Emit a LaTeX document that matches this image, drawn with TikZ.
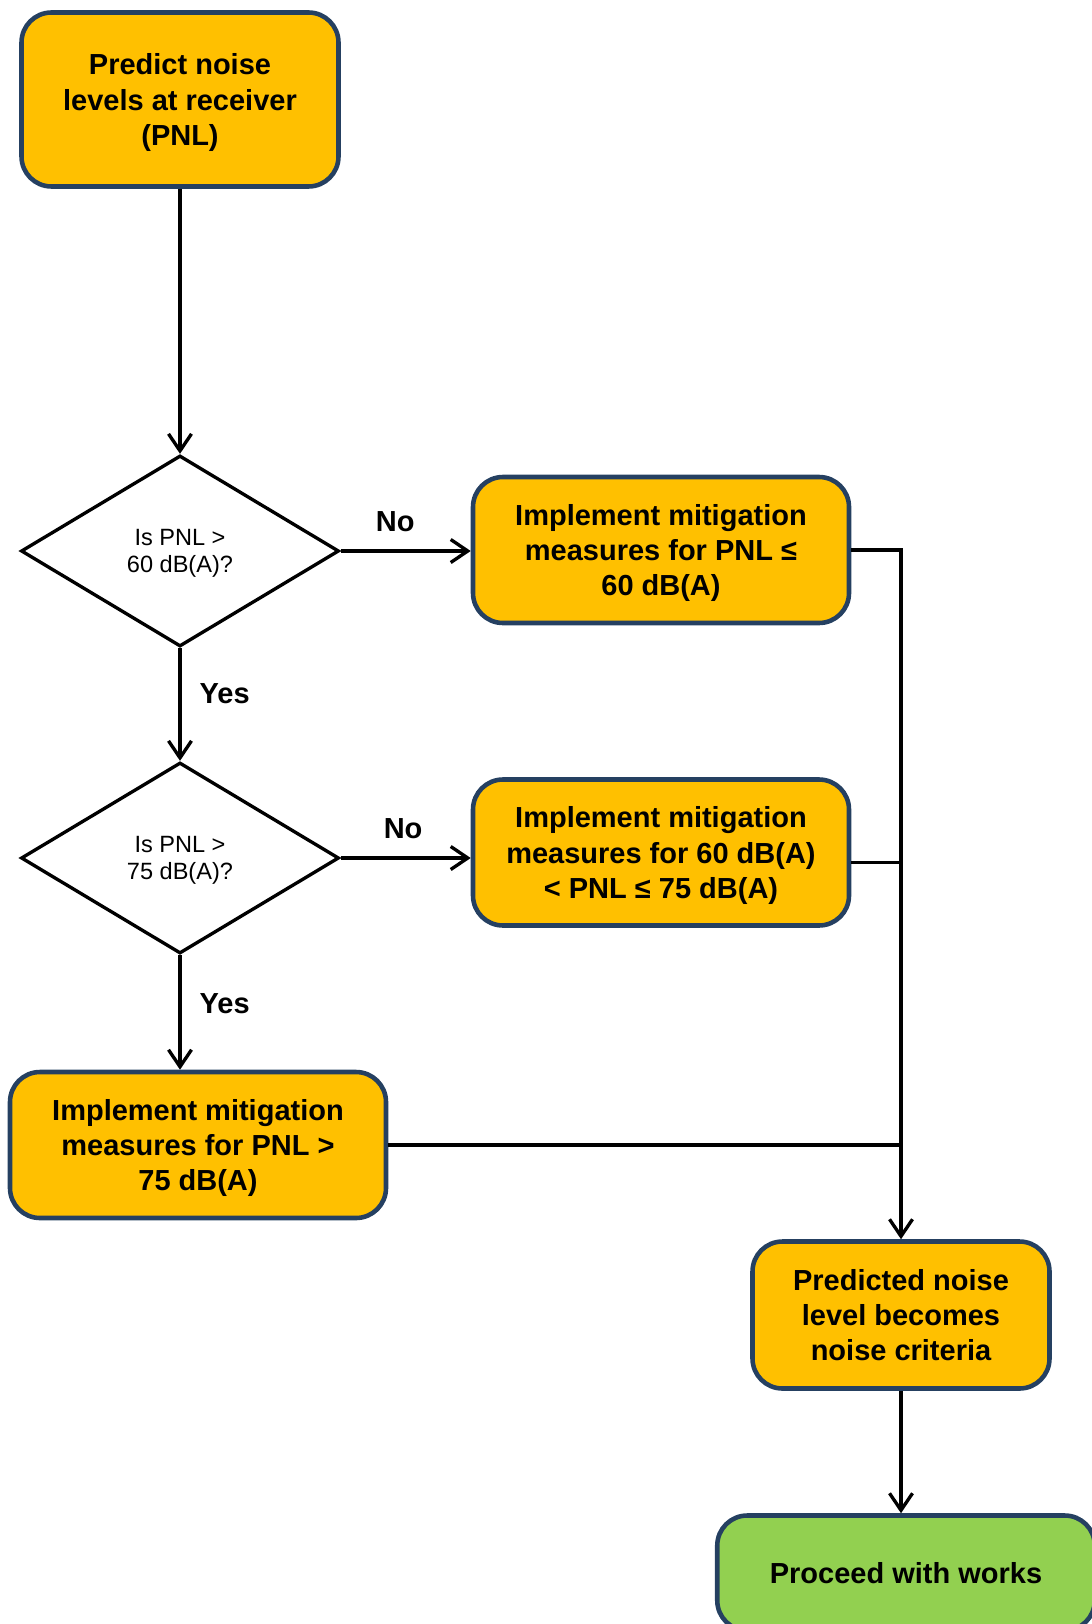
\documentclass[tikz,border=0pt]{standalone}
\usepackage{fontspec}
\setmainfont{Liberation Sans}
\usetikzlibrary{arrows.meta, positioning, shapes.geometric}
\definecolor{boxline}{RGB}{37,64,97}
\definecolor{boxfill}{RGB}{255,192,0}
\definecolor{endfill}{RGB}{146,208,80}

\begin{document}
\begin{tikzpicture}[
      font=\fontsize{16.5}{20}\selectfont\bfseries,
      block/.style={draw=boxline, line width=2.6pt, rounded corners=0.6cm,
        align=center, fill=boxfill, inner sep=2pt, text depth=-0.09cm},
      finish/.style={block, fill=endfill, text depth=, minimum width=7.55cm,
        minimum height=2.3cm},
      decision/.style={draw, diamond, line width=1.9pt, align=center,
        minimum width=6.36cm, minimum height=3.82cm, inner sep=0pt,
        text depth=-0.2cm, font=\fontsize{13.4}{15.4}\selectfont},
      arrow/.style={-{Straight Barb[length=3.4mm, width=4.6mm]}, line width=1.9pt},
      link/.style={line width=1.9pt},
      lab/.style={inner sep=0pt}
    ]
    \useasboundingbox (0,0) rectangle (21.82,-32.48);
    \node[block, minimum width=6.34cm, minimum height=3.48cm] at (3.6,-1.99)
      (predict) {Predict noise\\levels at receiver\\(PNL)};
    \node[decision] at (3.6,-11.02) (check60) {Is PNL >\\60 dB(A)?};
    \node[block, minimum width=7.52cm, minimum height=2.92cm] at (13.22,-11.0)
      (low) {Implement mitigation\\measures for PNL ≤\\60 dB(A)};
    \node[decision] at (3.6,-17.16) (check75) {Is PNL >\\75 dB(A)?};
    \node[block, minimum width=7.52cm, minimum height=2.92cm] at (13.22,-17.05)
      (mid) {Implement mitigation\\measures for 60 dB(A)\\< PNL ≤ 75 dB(A)};
    \node[block, minimum width=7.52cm, minimum height=2.92cm] at (3.96,-22.9)
      (high) {Implement mitigation\\measures for PNL >\\75 dB(A)};
    \node[block, minimum width=5.94cm, minimum height=2.94cm] at (18.02,-26.3)
      (criteria) {Predicted noise\\level becomes\\noise criteria};
    \node[finish] at (18.12,-31.46) (works) {Proceed with works};

    \draw[arrow] (predict) -- (check60);
    \draw[arrow] (check60.east) --
      node[lab, above=0.36cm, pos=0.42]{No} (low.west |- check60.east);
    \draw[arrow] (check60.south) --
      node[lab, right=0.36cm, pos=0.4]{Yes} (check75.north);
    \draw[arrow] (check75.east) --
      node[lab, above=0.36cm, pos=0.48]{No} (mid.west |- check75.east);
    \draw[arrow] (check75.south) --
      node[lab, right=0.36cm, pos=0.42]{Yes} (check75.south |- high.north);
    \draw[arrow] (low.east) -| (criteria.north);
    \draw[link] ([yshift=-0.2cm]mid.east) -- ([yshift=-0.2cm]mid.east -| criteria.north);
    \draw[link] (high.east) -- (high.east -| criteria.north);
    \draw[arrow] (criteria.south) -- (works.north -| criteria.south);
  \end{tikzpicture}
\end{document}
